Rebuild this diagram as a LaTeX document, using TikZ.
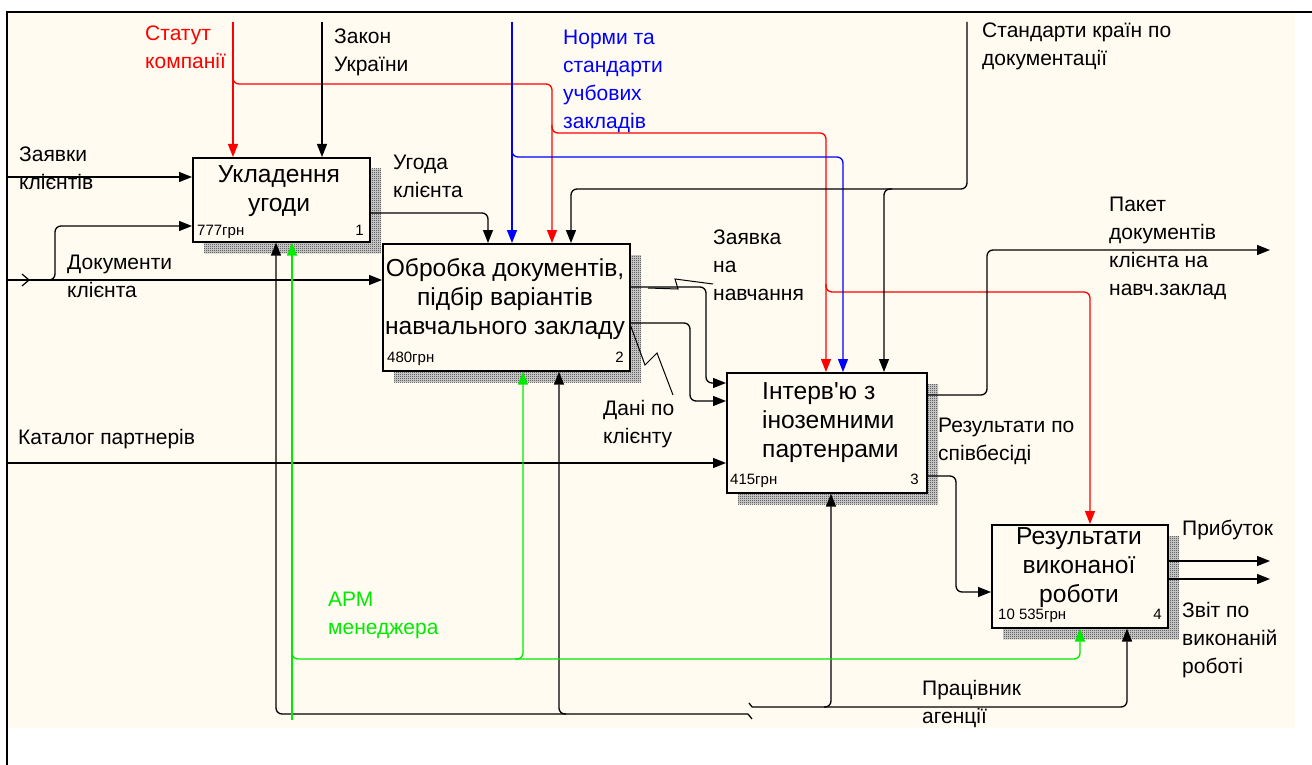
\documentclass[tikz,border=0pt]{standalone}
\usepackage{fontspec}
\setmainfont{Liberation Sans}
\usetikzlibrary{arrows.meta,patterns}
\definecolor{bg}{RGB}{255,251,240}
\definecolor{igreen}{RGB}{0,235,0}
\pgfdeclarepatternformonly{chk}{\pgfpointorigin}{\pgfpoint{2pt}{2pt}}{\pgfpoint{2pt}{2pt}}{%
  \pgfpathrectangle{\pgfpointorigin}{\pgfpoint{1pt}{1pt}}%
  \pgfpathrectangle{\pgfpoint{1pt}{1pt}}{\pgfpoint{1pt}{1pt}}%
  \pgfusepath{fill}}
\begin{document}
\begin{tikzpicture}[x=1pt,y=-1pt,
  box/.style={draw, line width=1.6pt, fill=bg, anchor=north west, inner sep=0pt},
  flow/.style={line width=1.3pt, rounded corners=6pt},
  arr/.style={-{Triangle[length=13pt,width=10pt]}},
  lbl/.style={anchor=north west, inner sep=0pt, align=left, font=\fontsize{21}{28}\selectfont},
  ttl/.style={anchor=north, inner sep=0pt, align=center, font=\fontsize{24.6}{29}\selectfont},
  cost/.style={anchor=north west, inner sep=0pt, font=\fontsize{15}{16}\selectfont},
  shadebase/.style={fill=black!15},
  shade/.style={pattern=chk, pattern color=black!85}]
\useasboundingbox (0,0) rectangle (1312,765);
\fill[white] (0,0) rectangle (1312,765);
\fill[bg] (7,12) rectangle (1295,728);
\draw[line width=2pt] (1312,12) -- (7,12) -- (7,765);

% shadows
\foreach \a/\b/\c/\d in {204/169/381/253, 394/255/641/382, 738/384/938/504, 1003/536/1179/639}{
  \fill[shadebase] (\a,\b) rectangle (\c,\d);
  \fill[shade] (\a,\b) rectangle (\c,\d);
}

% boxes
\node[box, minimum width=177pt, minimum height=84pt] (b1) at (192,157) {};
\node[box, minimum width=247pt, minimum height=127pt] (b2) at (382,243) {};
\node[box, minimum width=200pt, minimum height=120pt] (b3) at (726,372) {};
\node[box, minimum width=176pt, minimum height=103pt] (b4) at (991,524) {};

% titles
\node[ttl] (t1) at (279,165) {Укладення\\угоди};
\node[ttl] (t2) at (505,258) {Обробка документів,\\підбір варіантів\\навчального закладу};
\node[ttl, anchor=north west, align=left] (t3) at (762,382) {Інтерв\textquotesingle ю з\\іноземними\\партенрами};
\node[ttl] (t4) at (1079,527) {Результати\\виконаної\\роботи};

% costs and numbers
\node[cost] (c1) at (197,225) {777грн};
\node[cost, anchor=north east] (n1) at (364,225) {1};
\node[cost] (c2) at (387,352) {480грн};
\node[cost, anchor=north east] (n2) at (624,352) {2};
\node[cost] (c3) at (730,474) {415грн};
\node[cost, anchor=north east] (n3) at (919,474) {3};
\node[cost] (c4) at (998,609) {10 535грн};
\node[cost, anchor=north east] (n4) at (1162,609) {4};

% inputs
\coordinate (i1) at (7,177);
\coordinate (i2) at (7,280);
\coordinate (i3) at (7,463);
\draw[flow,arr] (i1) -- (i1 -| b1.west);
\draw[flow,arr] (i2) -- (i2 -| b2.west);
\draw[line width=1.2pt] (22,274) -- (29,280) -- (22,286);
\draw[flow,arr] (47,280) -- (55,280) -- (55,226) -- (55,226 -| b1.west);
\draw[flow,arr] (i3) -- (i3 -| b3.west);

% controls
\coordinate (cRed) at (233,22);
\draw[flow,red,arr] (cRed) -- (cRed |- b1.north);
\draw[flow,red,arr] (233,76) -- (233,84) -- (552,84) -- (552,0 |- b2.north);
\draw[flow,red,arr] (552,125) -- (552,133) -- (826,133) -- (826,0 |- b3.north);
\draw[flow,red,arr] (826,284) -- (826,292) -- (1090,292) -- (1090,0 |- b4.north);

\coordinate (cLaw) at (322,22);
\draw[flow,arr] (cLaw) -- (cLaw |- b1.north);

\coordinate (cNorm) at (512,22);
\draw[flow,blue,arr] (cNorm) -- (cNorm |- b2.north);
\draw[flow,blue,arr] (512,149) -- (512,157) -- (843,157) -- (843,0 |- b3.north);

\coordinate (cStd) at (967,22);
\draw[flow,arr] (cStd) -- (967,189) -- (571,189) -- (571,0 |- b2.north);
\draw[flow,arr] (892,189) -- (884,189) -- (884,0 |- b3.north);

\draw[flow,arr] (b1.east |- 0,213) -- (488,213) -- (488,0 |- b2.north);

% box 2 outputs
\draw[flow,arr] (b2.east |- 0,287) -- (706,287) -- (706,383) -- (b3.west |- 0,383);
\draw[flow,arr] (b2.east |- 0,323) -- (690,323) -- (690,401) -- (b3.west |- 0,401);
\draw[line width=1pt] (648,288) -- (678,289) -- (675,279) -- (713,284);
\draw[line width=1pt] (630,324) -- (645,365) -- (657,353) -- (673,395);

% box 3 outputs
\coordinate (oPak) at (1270,250);
\draw[flow,arr] (b3.east |- 0,395) -- (987,395) -- (987,250) -- (oPak);
\draw[flow,arr] (b3.east |- 0,476) -- (956,476) -- (956,592) -- (b4.west |- 0,592);

% box 4 outputs
\coordinate (oPr) at (1270,561);
\coordinate (oZv) at (1270,579);
\draw[flow,arr] (b4.east |- oPr) -- (oPr);
\draw[flow,arr] (b4.east |- oZv) -- (oZv);

% mechanisms
\draw[flow,arr] (748,714) -- (276,714) -- (276,0 |- b1.south);
\draw[flow,arr] (566,714) -- (559,714) -- (559,0 |- b2.south);
\draw[line width=1.3pt] (748,714) -- (752,719);
\draw[line width=1.3pt] (749,703) -- (752,707);
\draw[flow,arr] (752,707) -- (1127,707) -- (1127,0 |- b4.south);
\draw[flow,arr] (824,707) -- (831,707) -- (831,0 |- b3.south);

\coordinate (mArm) at (292,720);
\draw[flow,igreen,arr] (mArm) -- (mArm |- b1.south);
\draw[flow,igreen,arr] (292,652) -- (292,659) -- (1080,659) -- (1080,0 |- b4.south);
\draw[flow,igreen,arr] (515,659) -- (523,659) -- (523,0 |- b2.south);

% labels
\node[lbl, red] (lStat) at (145,26) {Статут\\компанії};
\node[lbl] (lLaw) at (334,29) {Закон\\України};
\node[lbl, blue] (lNorm) at (563,30) {Норми та\\стандарти\\учбових\\закладів};
\node[lbl] (lStd) at (982,23) {Стандарти країн по\\документації};
\node[lbl] (lZay) at (19,147) {Заявки\\клієнтів};
\node[lbl] (lDoc) at (67,255) {Документи\\клієнта};
\node[lbl] (lUg) at (393,155) {Угода\\клієнта};
\node[lbl] (lZn) at (713,230) {Заявка\\на\\навчання};
\node[lbl] (lDani) at (603,400) {Дані по\\клієнту};
\node[lbl] (lKat) at (18,429) {Каталог партнерів};
\node[lbl] (lPak) at (1109,197) {Пакет\\документів\\клієнта на\\навч.заклад};
\node[lbl] (lRes) at (938,418) {Результати по\\співбесіді};
\node[lbl] (lPr) at (1182,520) {Прибуток};
\node[lbl] (lZv) at (1182,602) {Звіт по\\виконаній\\роботі};
\node[lbl, igreen] (lArm) at (328,592) {АРМ\\менеджера};
\node[lbl] (lPrac) at (922,680) {Працівник\\агенції};
\end{tikzpicture}
\end{document}
